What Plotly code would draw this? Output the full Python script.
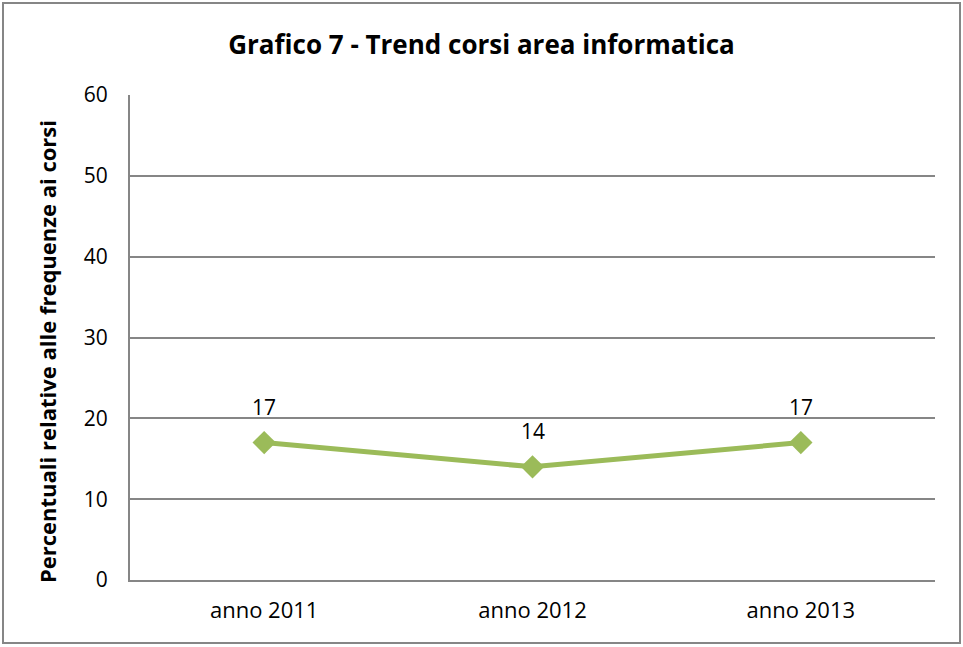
import plotly.graph_objects as go

# Data
anni = ["anno 2011", "anno 2012", "anno 2013"]
percentuali = [17, 14, 17]

W, H = 963, 647
L, R, T, B = 130, 28, 95, 67
PW, PH = W - L - R, H - T - B

FONT = "'Open Sans', sans-serif"
GREEN = "#9BBB59"
GRAY = "#868686"

fig = go.Figure(go.Scatter(
    x=anni, y=percentuali,
    mode="lines+markers",
    line=dict(color=GREEN, width=5),
    marker=dict(symbol="diamond", size=18, color=GREEN),
    showlegend=False,
))


def px_x(p):
    return (p - L) / PW


def px_y(p):
    return (H - B - p) / PH


# data labels above the points
labels = [
    dict(x=a, y=v, text=str(v), showarrow=False, yshift=36,
         font=dict(size=21, family=FONT, color="#000000"))
    for a, v in zip(anni, percentuali)
]

# y axis title (placed manually, Excel-style)
labels.append(dict(
    text="<b>Percentuali relative alle frequenze ai corsi</b>",
    xref="paper", yref="paper", x=px_x(47), y=px_y(352),
    xanchor="center", yanchor="middle", textangle=-90, showarrow=False,
    font=dict(size=22, family=FONT, color="#000000"),
))

fig.update_layout(
    width=W, height=H,
    margin=dict(l=L, r=R, t=T, b=B),
    paper_bgcolor="white",
    plot_bgcolor="white",
    font=dict(family=FONT, color="#000000"),
    title=dict(
        text="<b>Grafico 7 - Trend corsi area informatica</b>",
        x=0.5, xanchor="center", y=1 - 45 / H, yanchor="middle",
        font=dict(size=26, family=FONT),
    ),
    xaxis=dict(
        range=[-0.5, 2.5],
        showgrid=False,
        showline=True, linecolor=GRAY, linewidth=2,
        ticks="", tickfont=dict(size=22),
        ticklabelstandoff=10,
    ),
    yaxis=dict(
        range=[0, 60], dtick=10,
        showgrid=True, gridcolor=GRAY, gridwidth=2,
        showline=True, linecolor=GRAY, linewidth=2,
        zeroline=False,
        ticks="", tickfont=dict(size=21),
        ticklabelstandoff=16,
    ),
    annotations=labels,
    shapes=[
        dict(type="rect", xref="paper", yref="paper",
             x0=px_x(3), x1=px_x(960), y0=px_y(643), y1=px_y(3),
             line=dict(color=GRAY, width=2), layer="below"),
    ],
)

fig.write_html("out.html", config={"displayModeBar": False},
               post_script="document.body.style.margin='0';")
